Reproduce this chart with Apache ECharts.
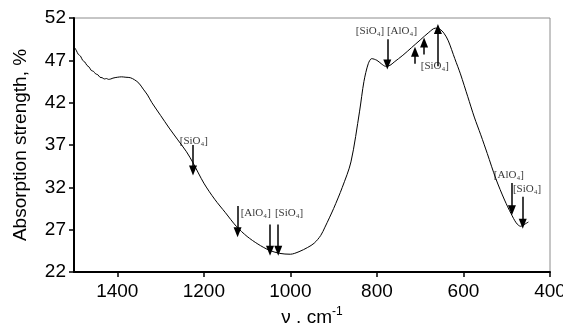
<!DOCTYPE html>
<html>
<head>
<meta charset="utf-8">
<script src="https://cdn.jsdelivr.net/npm/echarts@6/dist/echarts.min.js"></script>
<style>
  html, body { margin: 0; padding: 0; background: #fff; }
</style>
</head>
<body>
<div id="main" style="width: 563px; height: 327px"></div>
<script>
// IR spectrum, wavenumber (cm-1) vs absorption strength (%)
const wavenumber = [1500, 1495, 1490, 1485, 1480, 1475, 1470, 1465, 1460, 1455, 1450, 1445, 1440, 1435, 1430, 1425, 1420, 1415, 1410, 1400,
  1390, 1380, 1370, 1360, 1350, 1340, 1330, 1320, 1300, 1280, 1260, 1240, 1225, 1200, 1175, 1150, 1125, 1100, 1075, 1050,
  1025, 1000, 980, 960, 945, 930, 920, 900, 880, 860, 840, 830, 820, 812, 800, 790, 780, 770, 760, 740,
  720, 700, 680, 665, 655, 645, 635, 620, 607, 590, 575, 560, 545, 525, 505, 490, 478, 468, 460, 450]
const absorption = [48.6, 48.2, 47.7, 47.5, 47.0, 46.8, 46.4, 46.2, 45.8, 45.7, 45.4, 45.3, 45.0, 44.95, 44.8, 44.85, 44.75, 44.8, 44.9, 45.0,
  45.05, 45.0, 44.95, 44.7, 44.3, 43.6, 42.9, 42.0, 40.5, 39.0, 37.6, 36.2, 34.9, 32.5, 30.6, 29.0, 27.4, 26.2, 25.3, 24.6,
  24.2, 24.1, 24.4, 24.9, 25.4, 26.3, 27.3, 29.5, 32.0, 35.0, 41.0, 44.5, 46.6, 47.2, 47.0, 46.6, 46.3, 46.4, 46.8, 47.6,
  48.5, 49.4, 50.3, 50.8, 50.7, 50.2, 49.3, 47.2, 45.4, 42.7, 40.3, 38.2, 36.0, 33.0, 30.5, 28.9, 27.8, 27.4, 27.6, 27.9]

// arrows: position, start value, end value (head at end)
const arrowX = [1225, 1122, 1047, 1028, 776, 712, 691, 659, 488, 463]
const arrowFrom = [37.0, 29.8, 27.6, 27.6, 49.5, 46.6, 47.7, 46.3, 32.5, 30.9]
const arrowTo = [34.0, 26.7, 24.5, 24.5, 46.5, 48.0, 49.1, 50.7, 29.3, 27.7]

// band labels
const labelX = [1223, 1080, 1003, 816, 742, 666, 495, 453]
const labelY = [37.5, 29.0, 29.0, 50.5, 50.5, 46.3, 33.5, 31.8]
const labelText = ['[SiO₄]', '[AlO₄]', '[SiO₄]', '[SiO₄]', '[AlO₄]', '[SiO₄]', '[AlO₄]', '[SiO₄]']

const yTicks = [22, 27, 32, 37, 42, 47, 52]

const chart = echarts.init(document.getElementById('main'))

const option = {
  animation: false,
  grid: {
    left: 74,
    right: 13,
    top: 18,
    bottom: 55,
    outerBoundsMode: 'none',
    show: true,
    borderColor: '#8c8c8c',
    borderWidth: 1
  },
  xAxis: {
    type: 'value',
    inverse: true,
    min: 400,
    max: 1500,
    interval: 200,
    name: '{a|ν . cm}{s|-1}',
    nameLocation: 'middle',
    nameGap: 31,
    nameTextStyle: {
      fontFamily: 'Liberation Sans',
      fontSize: 19,
      color: '#000',
      rich: {
        a: { fontFamily: 'Liberation Sans', fontSize: 19, color: '#000' },
        s: { fontFamily: 'Liberation Sans', fontSize: 12, color: '#000', padding: [0, 0, 12, 0] }
      }
    },
    axisLine: { lineStyle: { color: '#000', width: 2 } },
    axisTick: { length: 5, lineStyle: { color: '#000', width: 1.5 } },
    axisLabel: {
      showMaxLabel: false,
      margin: 10,
      formatter: v => String(v),
      fontFamily: 'Liberation Sans',
      fontSize: 19,
      color: '#000'
    },
    splitLine: { show: false }
  },
  yAxis: {
    type: 'value',
    min: yTicks[0],
    max: yTicks[yTicks.length - 1],
    interval: 5,
    name: 'Absorption strength, %',
    nameLocation: 'middle',
    nameGap: 44,
    nameTextStyle: { fontFamily: 'Liberation Sans', fontSize: 19, color: '#000' },
    axisLine: { show: true, lineStyle: { color: '#000', width: 2 } },
    axisTick: { show: true, length: 5, lineStyle: { color: '#000', width: 1.5 } },
    axisLabel: { margin: 8, fontFamily: 'Liberation Sans', fontSize: 19, color: '#000' },
    splitLine: { show: false }
  },
  series: [
    {
      type: 'line',
      data: wavenumber.map((w, i) => [w, absorption[i]]),
      smooth: 0.3,
      symbol: 'none',
      lineStyle: { color: '#000', width: 1 },
      markLine: {
        silent: true,
        symbol: ['none', 'triangle'],
        symbolSize: [8, 10],
        label: { show: false },
        lineStyle: { color: '#000', width: 1.5, type: 'solid' },
        data: arrowX.map((x, i) => [
          { coord: [x, arrowFrom[i]] },
          { coord: [x, arrowTo[i]] }
        ])
      }
    },
    {
      type: 'scatter',
      symbolSize: 0,
      silent: true,
      data: labelX.map((x, i) => ({ value: [x, labelY[i]], name: labelText[i] })),
      label: {
        show: true,
        position: 'inside',
        formatter: '{b}',
        fontFamily: 'Liberation Serif',
        fontSize: 11,
        color: '#000'
      }
    }
  ]
}

chart.setOption(option)
</script>
</body>
</html>
